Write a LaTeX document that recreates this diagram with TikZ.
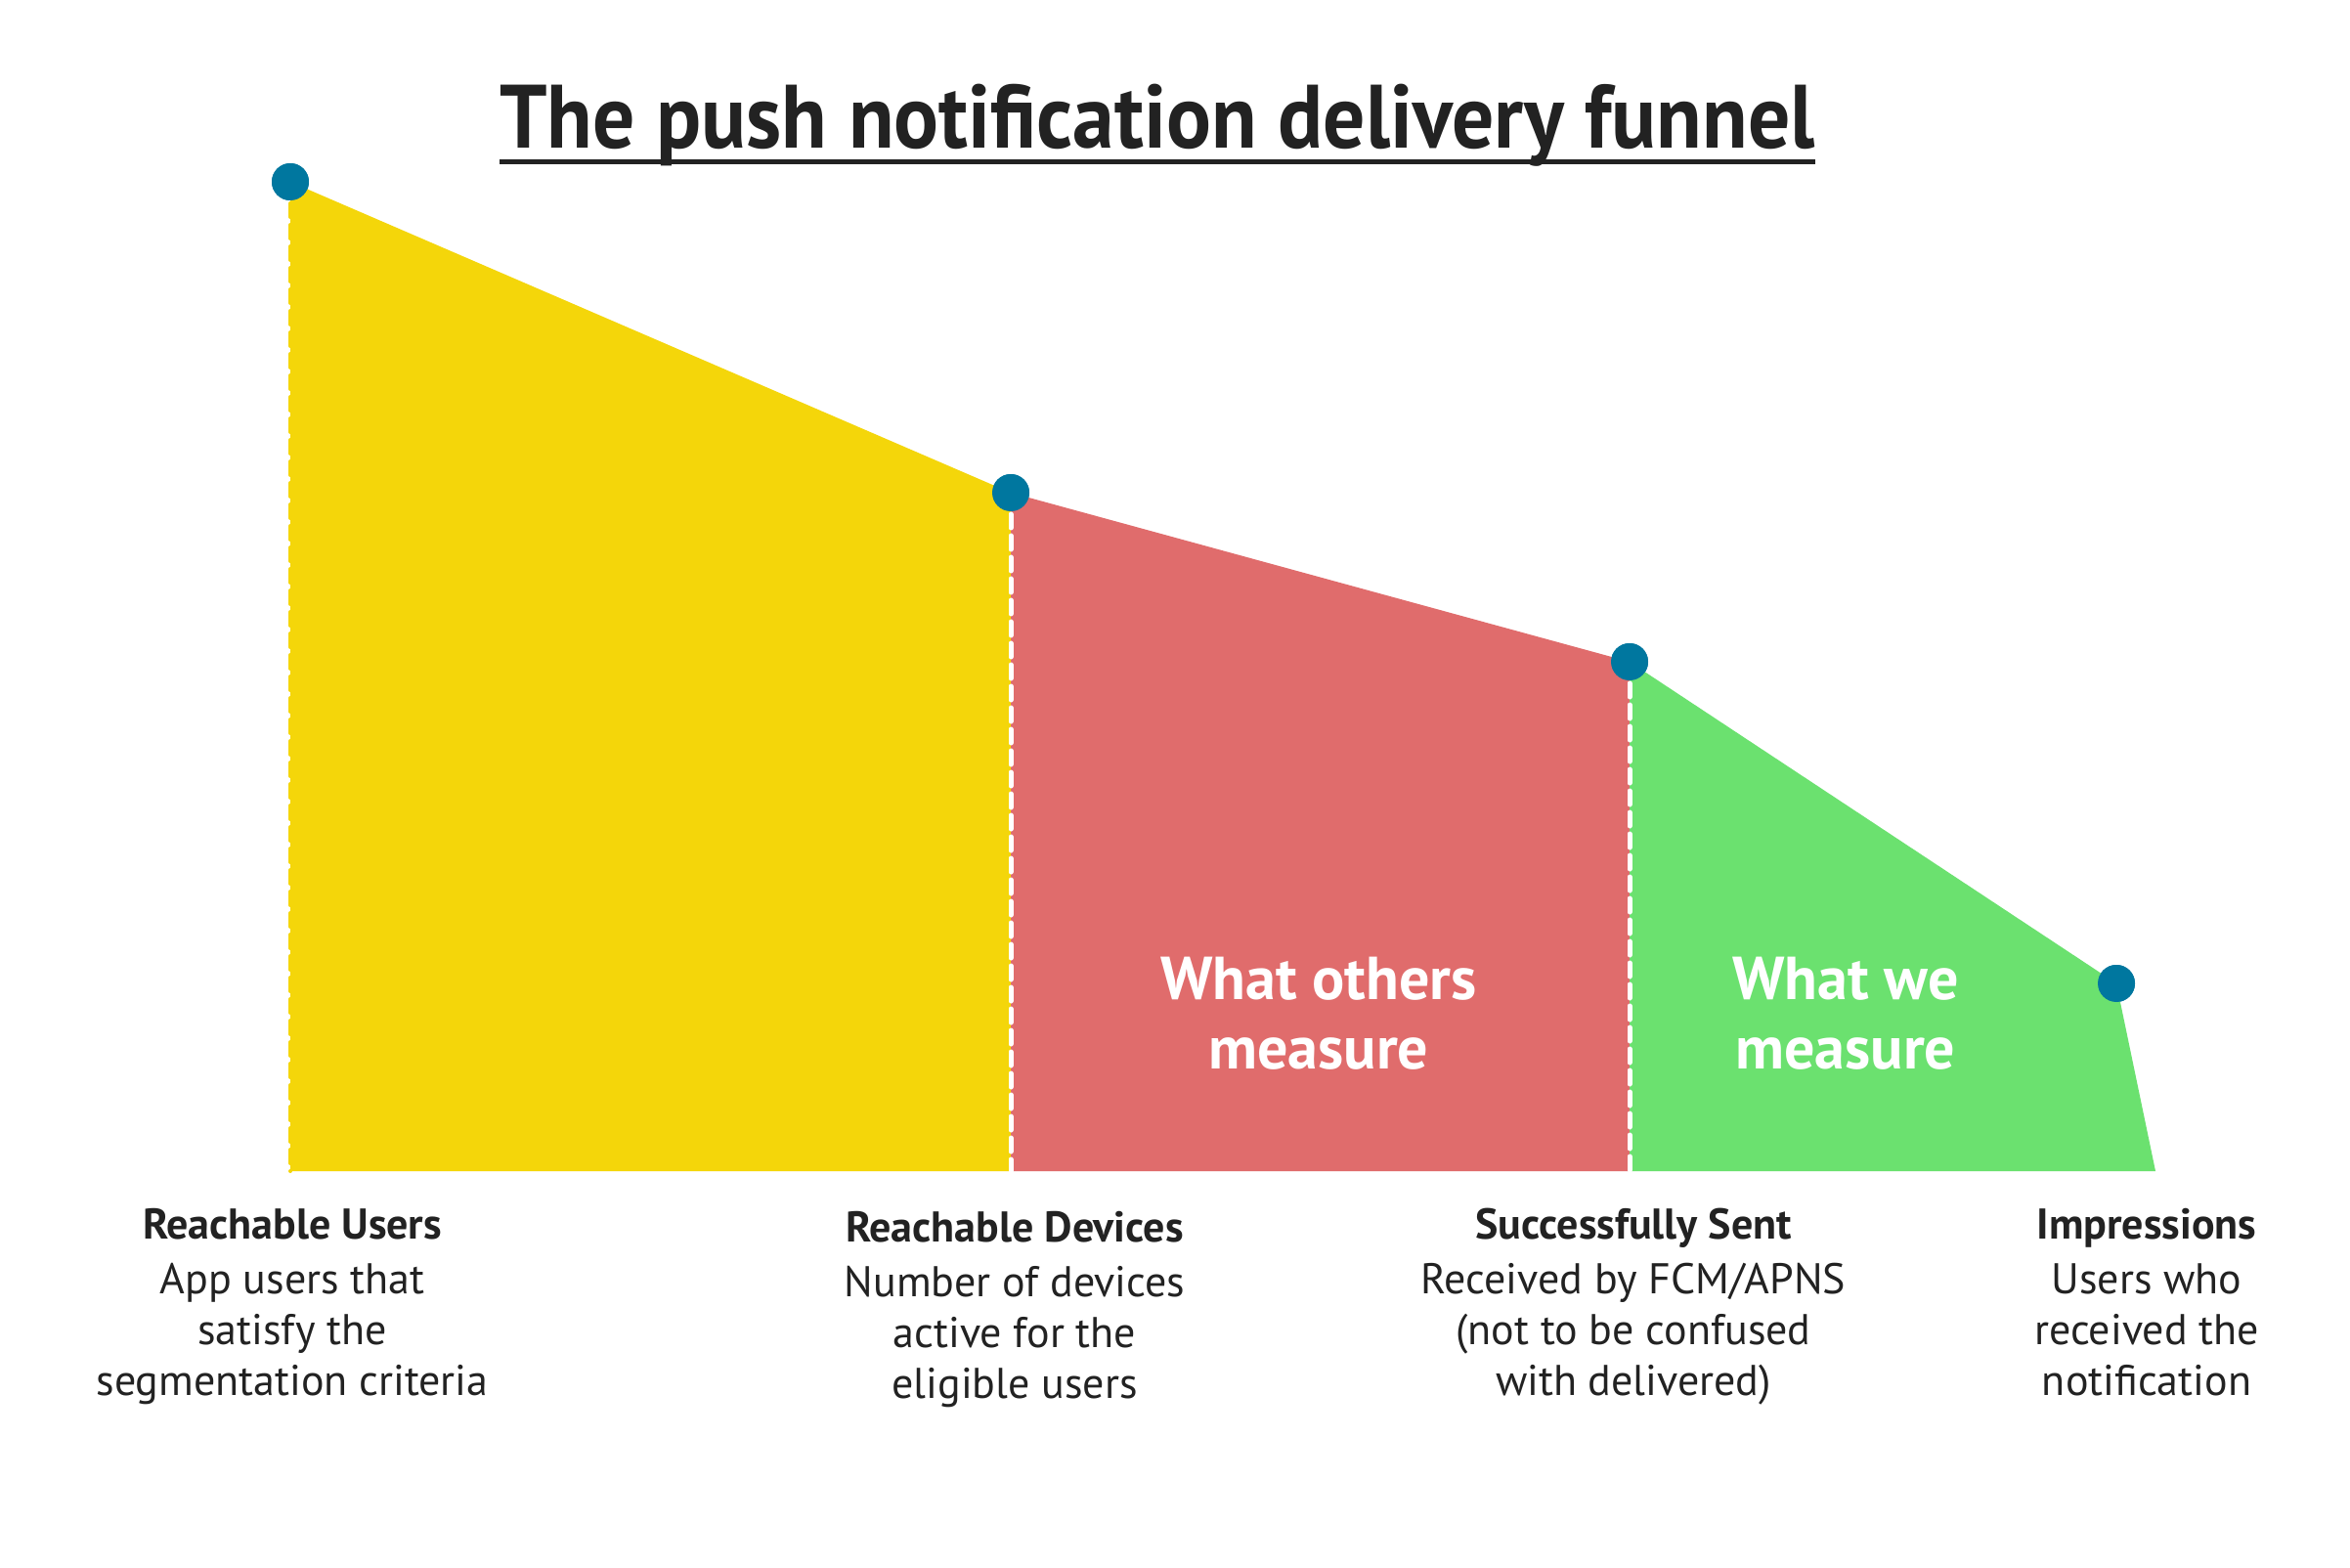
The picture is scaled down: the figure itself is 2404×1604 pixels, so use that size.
\documentclass[tikz,border=0pt]{standalone}
\usepackage{fontspec}
\setmainfont{PT Sans}
\newfontfamily\titlefont[FakeStretch=0.93]{PT Sans}
\usetikzlibrary{calc}
\definecolor{funnelyellow}{HTML}{F4D60A}
\definecolor{funnelred}{HTML}{E06C6C}
\definecolor{funnelgreen}{HTML}{6BE16F}
\definecolor{dotblue}{HTML}{00779F}
\definecolor{inkdark}{HTML}{222222}
\begin{document}
\begin{tikzpicture}[x=0.5pt,y=-0.5pt,
  dot/.style={circle,fill=dotblue,minimum size=19pt,inner sep=0pt},
  caption/.style={anchor=north,align=center,inner sep=0pt,text=inkdark,
    font=\fontsize{22}{26}\selectfont},
  inlabel/.style={align=center,inner sep=0pt,text=white,
    font=\bfseries\fontsize{31}{35.5}\selectfont},
  divider/.style={white,line width=2.5pt,dash pattern=on 7pt off 4pt,line cap=round}]
\useasboundingbox (0,0) rectangle (2404,1604);
\fill[white] (0,0) rectangle (2404,1604);

% title with underline
\node[anchor=base,inner sep=0pt,text=inkdark,
  font=\titlefont\bfseries\fontsize{46}{50}\selectfont] (title) at (1184,152)
  {The push notification delivery funnel};
\draw[inkdark,line width=2.5pt] ($(title.base west)+(0,14)$) -- ($(title.base east)+(0,14)$);

% funnel points
\node[dot] (p1) at (297,186) {};
\node[dot] (p2) at (1034,504) {};
\node[dot] (p3) at (1667,677) {};
\node[dot] (p4) at (2165,1006) {};
\coordinate (b1) at (297,1198);
\coordinate (b2) at (1034,1198);
\coordinate (b3) at (1667,1198);
\coordinate (b4) at (2205,1198);

% stages
\fill[funnelyellow] (b1) -- (p1.center) -- (p2.center) -- (b2) -- cycle;
\fill[funnelred] (b2) -- (p2.center) -- (p3.center) -- (b3) -- cycle;
\fill[funnelgreen] (b3) -- (p3.center) -- (p4.center) -- (b4) -- cycle;
\draw[funnelyellow,line width=2pt,dash pattern=on 7pt off 4pt,line cap=round]
  (p1.center) -- (b1);
\draw[divider] (p2.center) -- (b2);
\draw[divider] (p3.center) -- (b3);

% redraw the points above the fills
\foreach \n in {p1,p2,p3,p4} \fill[dotblue] (\n) circle (9.5pt);

% region labels
\node[inlabel] (others) at (1349,1037) {What others\\measure};
\node[inlabel] (ours) at (1888,1037) {What we\\measure};

% stage captions
\node[caption] (c1) at (299,1236) {\textbf{Reachable Users}\\[2pt]App users that\\satisfy the\\segmentation criteria};
\node[caption] (c2) at (1038,1239) {\textbf{Reachable Devices}\\[2pt]Number of devices\\active for the\\eligible users};
\node[caption] (c3) at (1671,1236) {\textbf{Successfully Sent}\\[2pt]Received by FCM/APNS\\(not to be confused\\with delivered)};
\node[caption] (c4) at (2196,1236) {\textbf{Impressions}\\[2pt]Users who\\received the\\notification};
\end{tikzpicture}
\end{document}
